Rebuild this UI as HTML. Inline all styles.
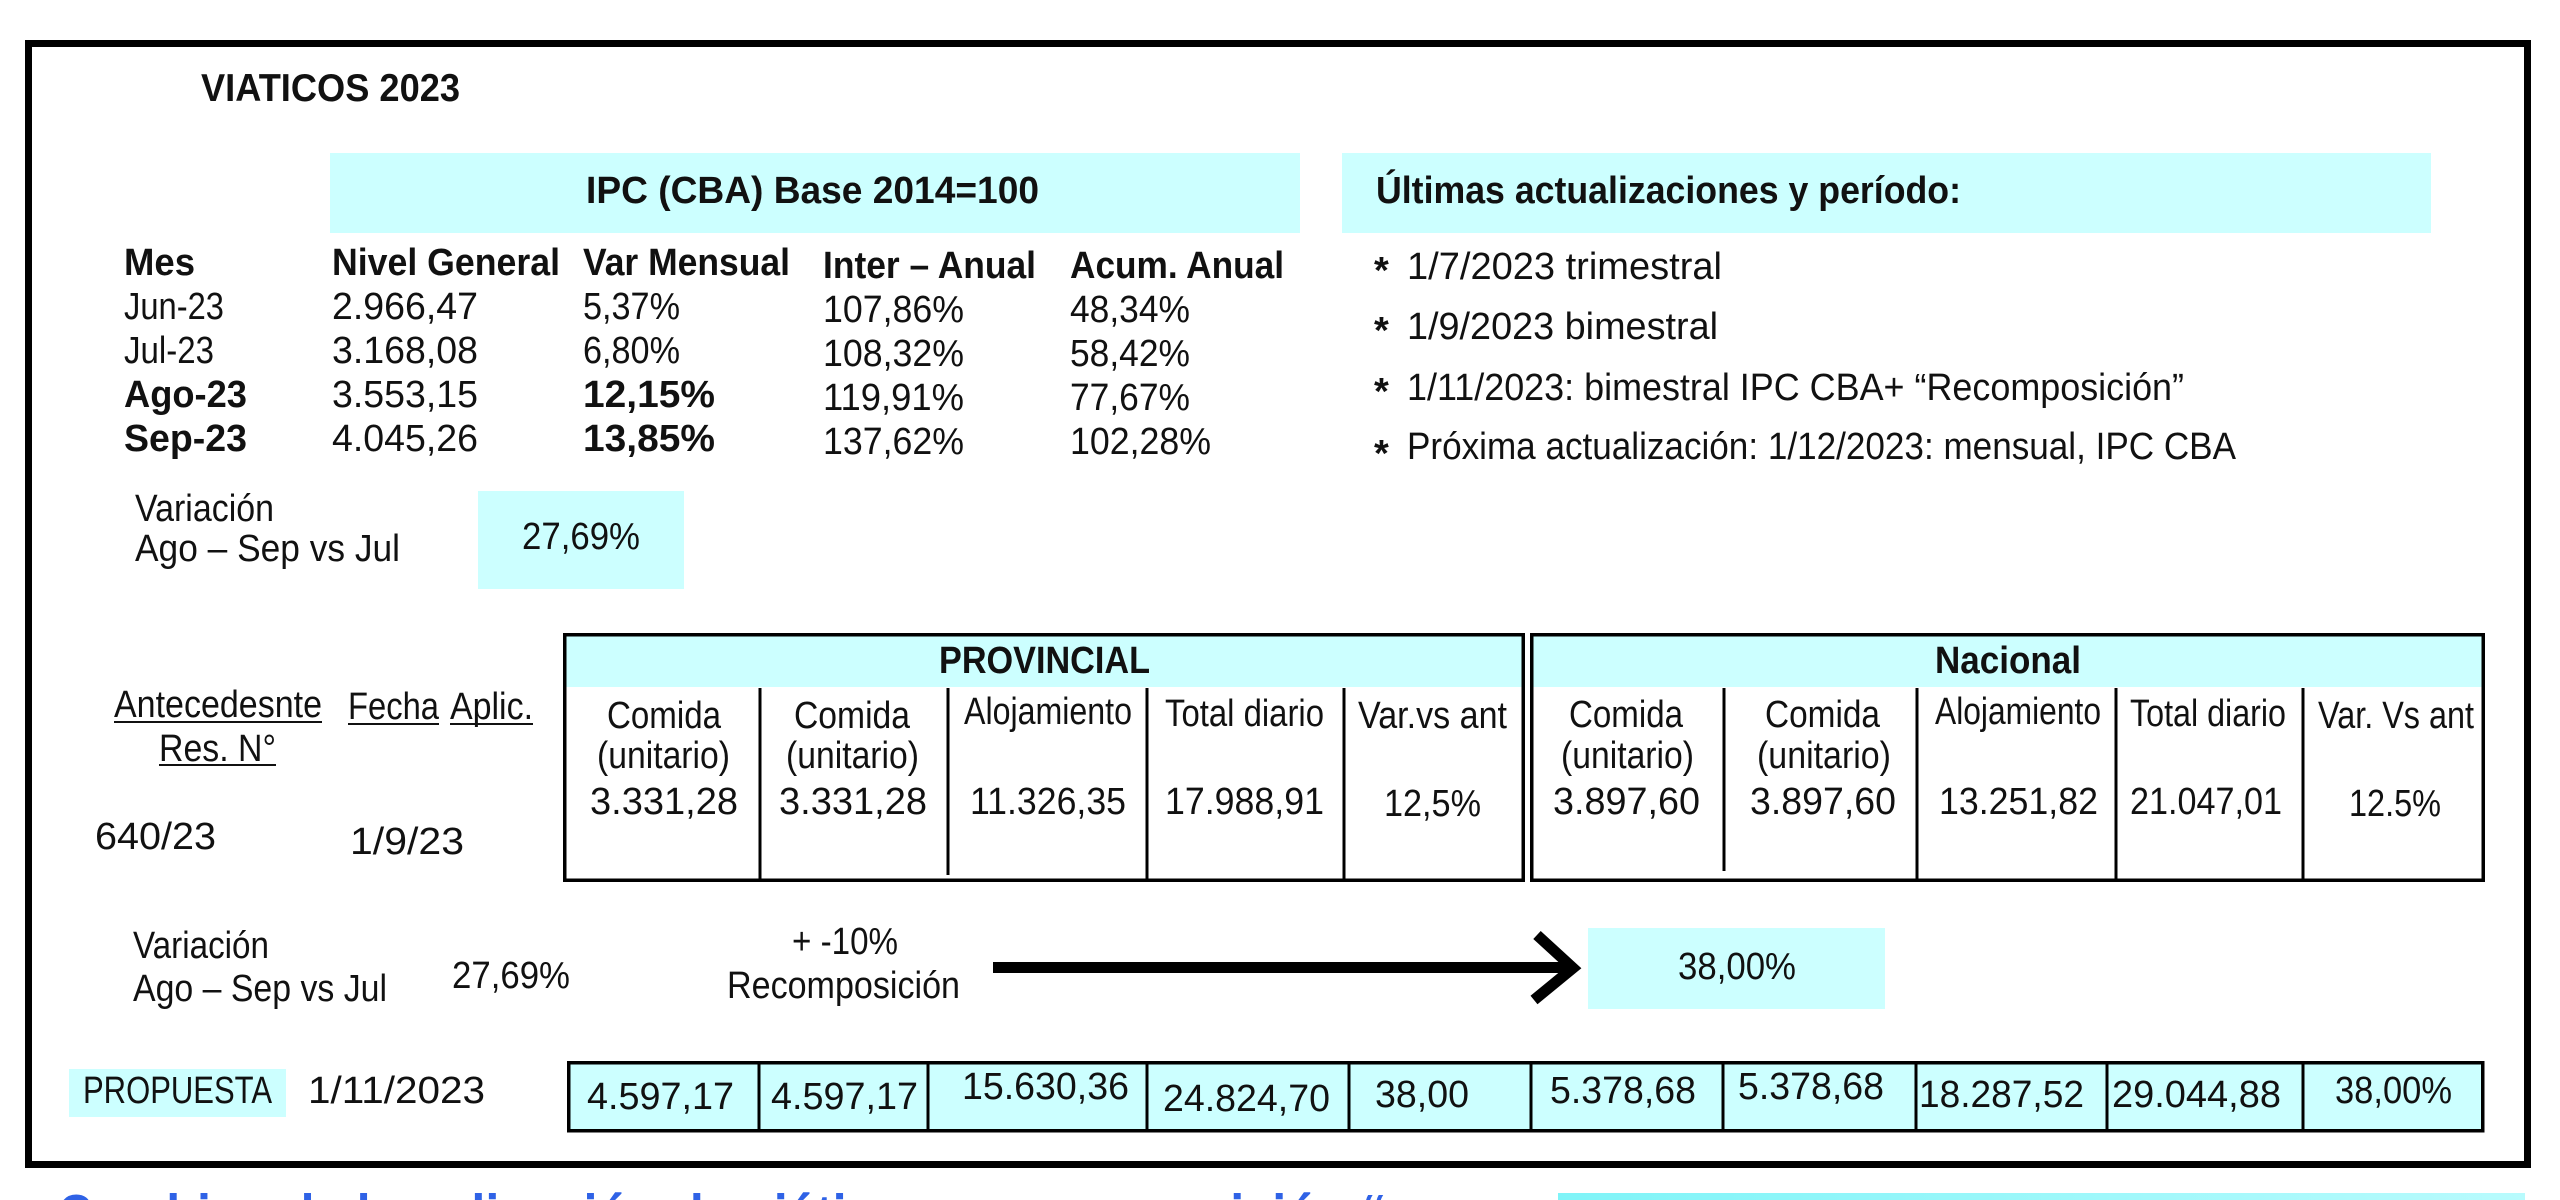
<!DOCTYPE html>
<html><head><meta charset="utf-8"><style>
html,body{margin:0;padding:0;background:#fff;}
svg{display:block;}
text{font-family:"Liberation Sans Narrow","Liberation Sans",sans-serif;font-size:38px;fill:#111;}
.b{font-weight:bold;}
</style></head><body>
<svg width="2560" height="1200" viewBox="0 0 2560 1200" xmlns="http://www.w3.org/2000/svg">
<rect x="0" y="0" width="2560" height="1200" fill="#fff"/>
<!-- outer frame -->
<rect x="28.5" y="43.5" width="2499" height="1121" fill="none" stroke="#000" stroke-width="7"/>

<text class="b" x="201" y="101" textLength="259" lengthAdjust="spacingAndGlyphs" style="font-size:39px">VIATICOS 2023</text>

<!-- IPC header -->
<rect x="330" y="153" width="970" height="80" fill="#ccffff"/>
<text class="b" x="586" y="203" textLength="453" lengthAdjust="spacingAndGlyphs">IPC (CBA) Base 2014=100</text>
<rect x="1342" y="153" width="1089" height="80" fill="#ccffff"/>
<text class="b" x="1376" y="203" textLength="585" lengthAdjust="spacingAndGlyphs">Últimas actualizaciones y período:</text>

<!-- IPC table header -->
<text class="b" x="124" y="275" textLength="71" lengthAdjust="spacingAndGlyphs">Mes</text>
<text class="b" x="332" y="275" textLength="228" lengthAdjust="spacingAndGlyphs">Nivel General</text>
<text class="b" x="583" y="275" textLength="207" lengthAdjust="spacingAndGlyphs">Var Mensual</text>
<text class="b" x="823" y="278" textLength="213" lengthAdjust="spacingAndGlyphs">Inter – Anual</text>
<text class="b" x="1070" y="278" textLength="214" lengthAdjust="spacingAndGlyphs">Acum. Anual</text>
<!-- rows -->
<text x="124" y="319" textLength="100" lengthAdjust="spacingAndGlyphs">Jun-23</text>
<text x="332" y="319" textLength="146" lengthAdjust="spacingAndGlyphs">2.966,47</text>
<text x="583" y="319" textLength="97" lengthAdjust="spacingAndGlyphs">5,37%</text>
<text x="823" y="322" textLength="141" lengthAdjust="spacingAndGlyphs">107,86%</text>
<text x="1070" y="322" textLength="120" lengthAdjust="spacingAndGlyphs">48,34%</text>

<text x="124" y="363" textLength="90" lengthAdjust="spacingAndGlyphs">Jul-23</text>
<text x="332" y="363" textLength="146" lengthAdjust="spacingAndGlyphs">3.168,08</text>
<text x="583" y="363" textLength="97" lengthAdjust="spacingAndGlyphs">6,80%</text>
<text x="823" y="366" textLength="141" lengthAdjust="spacingAndGlyphs">108,32%</text>
<text x="1070" y="366" textLength="120" lengthAdjust="spacingAndGlyphs">58,42%</text>

<text class="b" x="124" y="407" textLength="123" lengthAdjust="spacingAndGlyphs">Ago-23</text>
<text x="332" y="407" textLength="146" lengthAdjust="spacingAndGlyphs">3.553,15</text>
<text class="b" x="583" y="407" textLength="132" lengthAdjust="spacingAndGlyphs">12,15%</text>
<text x="823" y="410" textLength="141" lengthAdjust="spacingAndGlyphs">119,91%</text>
<text x="1070" y="410" textLength="120" lengthAdjust="spacingAndGlyphs">77,67%</text>

<text class="b" x="124" y="451" textLength="123" lengthAdjust="spacingAndGlyphs">Sep-23</text>
<text x="332" y="451" textLength="146" lengthAdjust="spacingAndGlyphs">4.045,26</text>
<text class="b" x="583" y="451" textLength="132" lengthAdjust="spacingAndGlyphs">13,85%</text>
<text x="823" y="454" textLength="141" lengthAdjust="spacingAndGlyphs">137,62%</text>
<text x="1070" y="454" textLength="141" lengthAdjust="spacingAndGlyphs">102,28%</text>

<!-- variacion 1 -->
<rect x="478" y="491" width="206" height="98" fill="#ccffff"/>
<text x="522" y="549" textLength="118" lengthAdjust="spacingAndGlyphs">27,69%</text>
<text x="135" y="521" textLength="139" lengthAdjust="spacingAndGlyphs">Variación</text>
<text x="135" y="561" textLength="265" lengthAdjust="spacingAndGlyphs">Ago – Sep  vs Jul</text>

<!-- right list -->
<text class="b" x="1374" y="283">*</text>
<text x="1407" y="279" textLength="315" lengthAdjust="spacingAndGlyphs">1/7/2023 trimestral</text>
<text class="b" x="1374" y="343">*</text>
<text x="1407" y="339" textLength="311" lengthAdjust="spacingAndGlyphs">1/9/2023 bimestral</text>
<text class="b" x="1374" y="404">*</text>
<text x="1407" y="400" textLength="777" lengthAdjust="spacingAndGlyphs">1/11/2023: bimestral IPC CBA+ “Recomposición”</text>
<text class="b" x="1374" y="466">*</text>
<text x="1407" y="459" textLength="829" lengthAdjust="spacingAndGlyphs">Próxima actualización: 1/12/2023: mensual, IPC CBA</text>

<!-- PROVINCIAL table -->
<rect x="566" y="636" width="956" height="51" fill="#ccffff"/>
<rect x="564.75" y="634.75" width="958.5" height="245.5" fill="none" stroke="#000" stroke-width="3.5"/>
<g stroke="#000" stroke-width="3">
<line x1="760" y1="688" x2="760" y2="880"/>
<line x1="948" y1="688" x2="948" y2="875"/>
<line x1="1147" y1="688" x2="1147" y2="880"/>
<line x1="1344" y1="688" x2="1344" y2="880"/>
</g>
<text class="b" x="939" y="673" textLength="211" lengthAdjust="spacingAndGlyphs">PROVINCIAL</text>
<text x="607" y="728" textLength="114" lengthAdjust="spacingAndGlyphs">Comida</text>
<text x="597" y="768" textLength="133" lengthAdjust="spacingAndGlyphs">(unitario)</text>
<text x="590" y="814" textLength="148" lengthAdjust="spacingAndGlyphs">3.331,28</text>
<text x="794" y="728" textLength="116" lengthAdjust="spacingAndGlyphs">Comida</text>
<text x="786" y="768" textLength="133" lengthAdjust="spacingAndGlyphs">(unitario)</text>
<text x="779" y="814" textLength="148" lengthAdjust="spacingAndGlyphs">3.331,28</text>
<text x="964" y="724" textLength="168" lengthAdjust="spacingAndGlyphs">Alojamiento</text>
<text x="970" y="814" textLength="156" lengthAdjust="spacingAndGlyphs">11.326,35</text>
<text x="1165" y="726" textLength="159" lengthAdjust="spacingAndGlyphs">Total diario</text>
<text x="1165" y="814" textLength="159" lengthAdjust="spacingAndGlyphs">17.988,91</text>
<text x="1358" y="728" textLength="149" lengthAdjust="spacingAndGlyphs">Var.vs ant</text>
<text x="1384" y="816" textLength="97" lengthAdjust="spacingAndGlyphs">12,5%</text>

<!-- NACIONAL table -->
<rect x="1533" y="636" width="949" height="51" fill="#ccffff"/>
<rect x="1531.75" y="634.75" width="951.5" height="245.5" fill="none" stroke="#000" stroke-width="3.5"/>
<g stroke="#000" stroke-width="3">
<line x1="1724" y1="688" x2="1724" y2="871"/>
<line x1="1917" y1="688" x2="1917" y2="880"/>
<line x1="2116" y1="688" x2="2116" y2="880"/>
<line x1="2303" y1="688" x2="2303" y2="880"/>
</g>
<text class="b" x="1935" y="673" textLength="146" lengthAdjust="spacingAndGlyphs">Nacional</text>
<text x="1569" y="727" textLength="114" lengthAdjust="spacingAndGlyphs">Comida</text>
<text x="1561" y="768" textLength="133" lengthAdjust="spacingAndGlyphs">(unitario)</text>
<text x="1553" y="814" textLength="147" lengthAdjust="spacingAndGlyphs">3.897,60</text>
<text x="1765" y="727" textLength="115" lengthAdjust="spacingAndGlyphs">Comida</text>
<text x="1757" y="768" textLength="134" lengthAdjust="spacingAndGlyphs">(unitario)</text>
<text x="1750" y="814" textLength="146" lengthAdjust="spacingAndGlyphs">3.897,60</text>
<text x="1935" y="724" textLength="166" lengthAdjust="spacingAndGlyphs">Alojamiento</text>
<text x="1939" y="814" textLength="159" lengthAdjust="spacingAndGlyphs">13.251,82</text>
<text x="2130" y="726" textLength="156" lengthAdjust="spacingAndGlyphs">Total diario</text>
<text x="2130" y="814" textLength="152" lengthAdjust="spacingAndGlyphs">21.047,01</text>
<text x="2318" y="728" textLength="156" lengthAdjust="spacingAndGlyphs">Var. Vs ant</text>
<text x="2349" y="816" textLength="92" lengthAdjust="spacingAndGlyphs">12.5%</text>

<!-- left labels -->
<text x="114" y="717" textLength="208" lengthAdjust="spacingAndGlyphs">Antecedesnte</text>
<line x1="114" y1="722" x2="322" y2="722" stroke="#111" stroke-width="2"/>
<text x="159" y="761" textLength="117" lengthAdjust="spacingAndGlyphs">Res. N°</text>
<line x1="159" y1="765" x2="276" y2="765" stroke="#111" stroke-width="2"/>
<text x="348" y="719" textLength="91" lengthAdjust="spacingAndGlyphs">Fecha</text>
<line x1="348" y1="724" x2="439" y2="724" stroke="#111" stroke-width="2"/>
<text x="450" y="719" textLength="83" lengthAdjust="spacingAndGlyphs">Aplic.</text>
<line x1="450" y1="724" x2="533" y2="724" stroke="#111" stroke-width="2"/>
<text x="95" y="849" textLength="121" lengthAdjust="spacingAndGlyphs">640/23</text>
<text x="350" y="854" textLength="114" lengthAdjust="spacingAndGlyphs">1/9/23</text>

<!-- variacion 2 -->
<text x="133" y="958" textLength="136" lengthAdjust="spacingAndGlyphs">Variación</text>
<text x="133" y="1001" textLength="254" lengthAdjust="spacingAndGlyphs">Ago – Sep vs Jul</text>
<text x="452" y="988" textLength="118" lengthAdjust="spacingAndGlyphs">27,69%</text>
<text x="792" y="954" textLength="106" lengthAdjust="spacingAndGlyphs">+ -10%</text>
<text x="727" y="998" textLength="233" lengthAdjust="spacingAndGlyphs">Recomposición</text>

<!-- arrow -->
<line x1="993" y1="967.5" x2="1568" y2="967.5" stroke="#000" stroke-width="11"/>
<polyline points="1537,935 1573,968 1534,1000" fill="none" stroke="#000" stroke-width="11" stroke-linejoin="miter"/>

<rect x="1588" y="928" width="297" height="81" fill="#ccffff"/>
<text x="1678" y="979" textLength="118" lengthAdjust="spacingAndGlyphs">38,00%</text>

<!-- PROPUESTA -->
<rect x="69" y="1069" width="217" height="48" fill="#ccffff"/>
<text x="83" y="1103" textLength="189" lengthAdjust="spacingAndGlyphs">PROPUESTA</text>
<text x="308" y="1103" textLength="177" lengthAdjust="spacingAndGlyphs">1/11/2023</text>

<rect x="568.75" y="1062.75" width="1914" height="68" fill="#ccffff" stroke="#000" stroke-width="3.5"/>
<g stroke="#000" stroke-width="3">
<line x1="759" y1="1063" x2="759" y2="1131"/>
<line x1="928" y1="1063" x2="928" y2="1131"/>
<line x1="1147" y1="1063" x2="1147" y2="1131"/>
<line x1="1349" y1="1063" x2="1349" y2="1131"/>
<line x1="1531" y1="1063" x2="1531" y2="1131"/>
<line x1="1723" y1="1063" x2="1723" y2="1131"/>
<line x1="1916" y1="1063" x2="1916" y2="1131"/>
<line x1="2107" y1="1063" x2="2107" y2="1131"/>
<line x1="2303" y1="1063" x2="2303" y2="1131"/>
</g>
<text x="587" y="1109" textLength="147" lengthAdjust="spacingAndGlyphs">4.597,17</text>
<text x="771" y="1109" textLength="147" lengthAdjust="spacingAndGlyphs">4.597,17</text>
<text x="962" y="1099" textLength="167" lengthAdjust="spacingAndGlyphs">15.630,36</text>
<text x="1163" y="1111" textLength="167" lengthAdjust="spacingAndGlyphs">24.824,70</text>
<text x="1375" y="1107" textLength="94" lengthAdjust="spacingAndGlyphs">38,00</text>
<text x="1550" y="1103" textLength="146" lengthAdjust="spacingAndGlyphs">5.378,68</text>
<text x="1738" y="1099" textLength="146" lengthAdjust="spacingAndGlyphs">5.378,68</text>
<text x="1919" y="1107" textLength="165" lengthAdjust="spacingAndGlyphs">18.287,52</text>
<text x="2112" y="1107" textLength="169" lengthAdjust="spacingAndGlyphs">29.044,88</text>
<text x="2335" y="1103" textLength="117" lengthAdjust="spacingAndGlyphs">38,00%</text>

<!-- bottom partially visible -->
<text x="57" y="1238" textLength="1330" lengthAdjust="spacingAndGlyphs" style="font-size:62px;font-weight:bold;fill:#2f62e6">Cambios de la aplicación de viáticos y recomposición “</text>
<defs><linearGradient id="g1" x1="0" x2="1" y1="0" y2="0"><stop offset="0" stop-color="#7ff4f8"/><stop offset="1" stop-color="#b8fbfd"/></linearGradient></defs>
<rect x="1558" y="1193" width="967" height="7" fill="url(#g1)"/>
</svg>
</body></html>
